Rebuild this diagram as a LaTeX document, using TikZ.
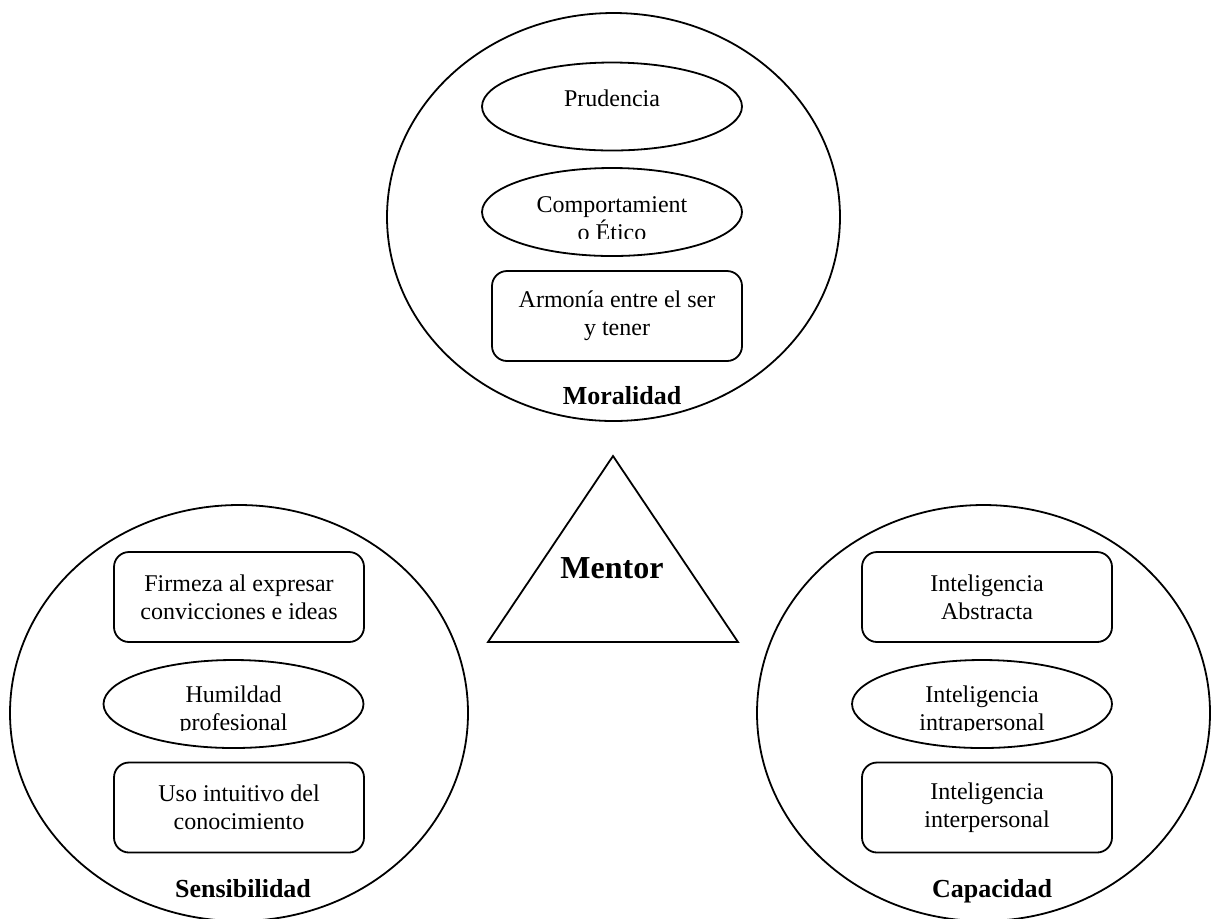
\documentclass[tikz,border=0pt]{standalone}
\usepackage{fontspec}
\setmainfont{Liberation Serif}
\usetikzlibrary{shapes.geometric}
\tikzset{
  ring/.style={draw, ellipse, line width=0.9pt, inner sep=0pt, minimum width=226.5pt},
  oval/.style={draw, ellipse, line width=0.9pt, inner sep=0pt, minimum width=130pt, minimum height=44pt},
  card/.style={draw, rectangle, rounded corners=7.5pt, line width=0.9pt, inner sep=0pt,
    minimum width=125pt, minimum height=45pt, align=center, font=\fontsize{12}{14}\selectfont},
  txt/.style={align=center, inner sep=0pt, font=\fontsize{12}{14}\selectfont},
  lbl/.style={inner sep=0pt, anchor=base, font=\fontsize{13}{15}\selectfont\bfseries}
}
\begin{document}
\begin{tikzpicture}[x=0.5pt, y=-0.5pt]
      \useasboundingbox (0, 0) rectangle (1214, 918);
      % three rings
      \node[ring, minimum height=204pt] (mor) at (613.5, 217) {};
      \node[ring, minimum height=208pt, minimum width=229pt] (sen) at (239, 713) {};
      \node[ring, minimum height=208pt] (cap) at (983.5, 713) {};
      % Moralidad
      \node[oval] (pru) at (612, 106.5) {};
      \node[txt] (prut) at (612, 98) {Prudencia};
      \node[oval] (eti) at (612, 212) {};
      \begin{scope}
        \clip (482, 168) rectangle (742, 238.5);
        \node[txt] (etit) at (612, 219) {Comportamient\\o Ético};
      \end{scope}
      \node[card] (arm) at (617, 316) {Armonía entre el ser\\y tener};
      \node[lbl] (mort) at (622, 404) {Moralidad};
      % Sensibilidad
      \node[card] (fir) at (239, 597) {Firmeza al expresar\\convicciones e ideas};
      \node[oval] (hum) at (233.5, 704) {};
      \begin{scope}
        \clip (103, 660) rectangle (364, 730.5);
        \node[txt] (humt) at (233.5, 711) {Humildad\\profesional};
      \end{scope}
      \node[card] (uso) at (239, 807.5) {Uso intuitivo del\\conocimiento};
      \node[lbl] (sent) at (243, 897) {Sensibilidad};
      % Capacidad
      \node[card] (abs) at (987, 597) {Inteligencia\\Abstracta};
      \node[oval] (intra) at (982, 704) {};
      \begin{scope}
        \clip (852, 660) rectangle (1112, 730.5);
        \node[txt] (intrat) at (982, 711) {Inteligencia\\intrapersonal};
      \end{scope}
      \node[card] (inter) at (987, 807.5) {Inteligencia\\interpersonal};
      \node[lbl] (capt) at (992, 897) {Capacidad};
      % Mentor
      \coordinate (top) at (613, 456);
      \coordinate (bl) at (488, 642);
      \coordinate (br) at (738, 642);
      \draw[line width=0.9pt] (top) -- (bl) -- (br) -- cycle;
      \node[inner sep=0pt, font=\fontsize{16}{18}\selectfont\bfseries] (men) at (612, 568) {Mentor};
\end{tikzpicture}
\end{document}
